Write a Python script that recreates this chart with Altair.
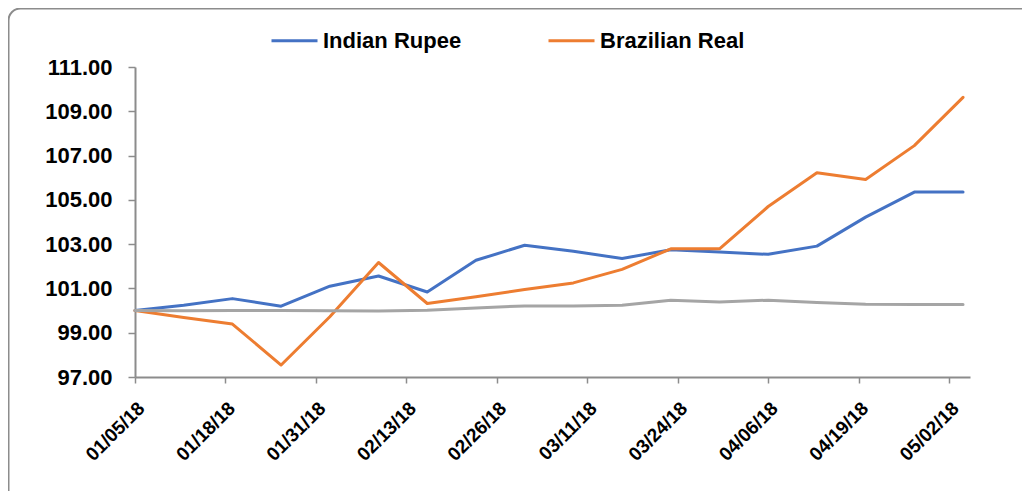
import altair as alt
import pandas as pd

dates = ["2018-01-05", "2018-01-12", "2018-01-19", "2018-01-26", "2018-02-02", "2018-02-09",
         "2018-02-16", "2018-02-23", "2018-03-02", "2018-03-09", "2018-03-16", "2018-03-23",
         "2018-03-30", "2018-04-06", "2018-04-13", "2018-04-20", "2018-04-27", "2018-05-04"]
rupee = [100.00, 100.24, 100.54, 100.20, 101.10, 101.56, 100.84, 102.27, 102.95, 102.68,
         102.35, 102.75, 102.64, 102.54, 102.91, 104.22, 105.35, 105.35]
real = [100.00, 99.69, 99.39, 97.54, 99.72, 102.17, 100.32, 100.62, 100.95, 101.25,
        101.86, 102.79, 102.79, 104.70, 106.22, 105.92, 107.45, 109.63]
other = [100.00, 99.99, 100.00, 100.00, 99.99, 99.98, 100.02, 100.12, 100.21, 100.21,
         100.24, 100.47, 100.39, 100.47, 100.36, 100.29, 100.27, 100.27]
tick_dates = ["2018-01-05", "2018-01-18", "2018-01-31", "2018-02-13", "2018-02-26",
              "2018-03-11", "2018-03-24", "2018-04-06", "2018-04-19", "2018-05-02"]
y_ticks = [97, 99, 101, 103, 105, 107, 109, 111]
series_names = ["Indian Rupee", "Brazilian Real", "Benchmark"]
colors = ["#4472C4", "#ED7D31", "#A5A5A5"]

rows = []
for name, vals in zip(series_names, [rupee, real, other]):
    for d, v in zip(dates, vals):
        rows.append({"date": d, "value": v, "series": name})
df = pd.DataFrame(rows)


def ms(d):
    return int(pd.Timestamp(d, tz="UTC").timestamp() * 1000)


FONT = "Liberation Sans"
AXC = "#8c8c8c"

x_enc = alt.X(
    "date:T",
    title=None,
    scale=alt.Scale(type="utc", domain=[ms("2018-01-05"), ms("2018-05-05")]),
    axis=alt.Axis(
        values=[ms(d) for d in tick_dates],
        labelExpr="utcFormat(datum.value, '%m/%d/%y')",
        labelAngle=-45, labelAlign="right", labelBaseline="middle",
        labelFont=FONT, labelFontSize=19, labelFontWeight="bold", labelColor="black",
        labelPadding=22, labelOffset=6, tickSize=6, tickColor=AXC, tickWidth=1.5,
        domainColor=AXC, domainWidth=2, grid=False, labelOverlap=False,
    ),
)
y_enc = alt.Y(
    "value:Q",
    title=None,
    scale=alt.Scale(domain=[97, 111], nice=False, zero=False),
    axis=alt.Axis(
        values=y_ticks, format=".2f",
        labelFont=FONT, labelFontSize=22, labelFontWeight="bold", labelColor="black",
        labelPadding=16, tickSize=7, tickColor=AXC, tickWidth=1.5,
        domainColor=AXC, domainWidth=2, grid=False,
    ),
)
color_enc = alt.Color(
    "series:N",
    scale=alt.Scale(domain=series_names, range=colors),
    legend=alt.Legend(
        values=["Indian Rupee", "Brazilian Real"], orient="none", legendX=135, legendY=-51,
        direction="horizontal", title=None, symbolType="stroke", symbolSize=2116,
        symbolStrokeWidth=3, labelFont=FONT, labelFontSize=22, labelFontWeight="bold",
        labelColor="black", columnPadding=80, labelOffset=4, padding=0,
    ),
)

base = alt.Chart(df).mark_line(strokeWidth=3, strokeJoin="round", strokeCap="round").encode(
    x=x_enc, y=y_enc, color=color_enc
)
layers = [base.transform_filter(alt.datum.series == n) for n in series_names]

border = alt.Chart(alt.Data(values=[{"a": 1}])).mark_rect(
    fill="white", fillOpacity=0, stroke="#8c8c8c", strokeWidth=2, cornerRadius=12
).encode(
    x=alt.value(-126.5), x2=alt.value(900), y=alt.value(-58.5), y2=alt.value(500)
)

chart = alt.layer(border, *layers).properties(
    width=835, height=310,
    autosize=alt.AutoSizeParams(type="none"),
    padding={"left": 127, "top": 59, "right": 52, "bottom": 114},
    background="white",
).configure_view(stroke=None)

chart.save("out.html", embed_options={"renderer": "svg", "actions": False})
